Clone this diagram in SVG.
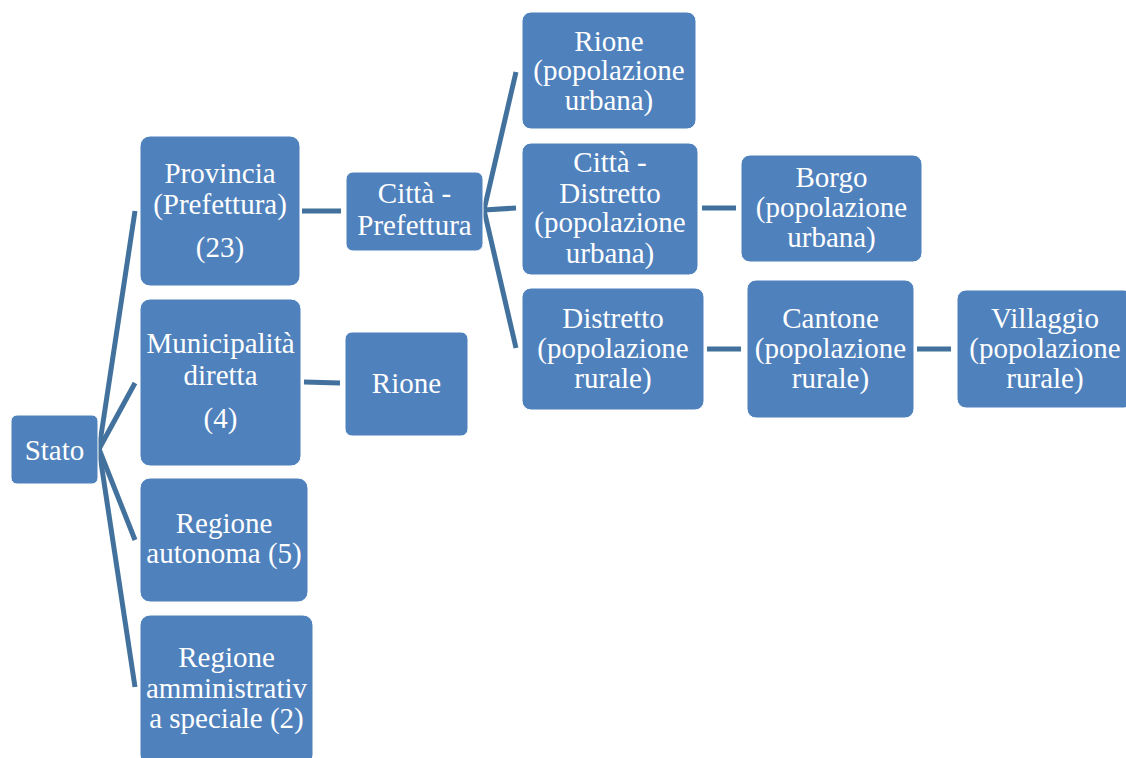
<svg xmlns="http://www.w3.org/2000/svg" width="1126" height="758" viewBox="0 0 1126 758">
<style>
.box{fill:#4f81bd;stroke:#ffffff;stroke-width:1}
text{font-family:'Liberation Serif',serif;font-size:29px;fill:#ffffff;text-anchor:middle}
.c{stroke:#41719c;stroke-width:5;fill:none;stroke-linecap:butt}
</style>
<rect width="1126" height="758" fill="#ffffff"/>
<g id="connectors">
<line class="c" x1="99" y1="449" x2="135" y2="211"/>
<line class="c" x1="99" y1="449" x2="135" y2="383"/>
<line class="c" x1="99" y1="449" x2="135" y2="540"/>
<line class="c" x1="99" y1="449" x2="135" y2="687"/>
<line class="c" x1="302" y1="211" x2="341" y2="211"/>
<line class="c" x1="304" y1="382" x2="340" y2="383"/>
<line class="c" x1="484" y1="210" x2="516" y2="72"/>
<line class="c" x1="484" y1="210" x2="516" y2="208"/>
<line class="c" x1="484" y1="210" x2="516" y2="348"/>
<line class="c" x1="702" y1="208" x2="736" y2="208"/>
<line class="c" x1="707" y1="349" x2="741" y2="349"/>
<line class="c" x1="917" y1="349" x2="951" y2="349"/>
</g>
<g id="stato"><rect class="box" x="11" y="415" width="87" height="69" rx="6"/><text x="54.5" y="460">Stato</text></g>
<g id="provincia"><rect class="box" x="140" y="136" width="160" height="150" rx="10"/>
<text x="220" y="183">Provincia</text><text x="220" y="214">(Prefettura)</text><text x="220" y="257">(23)</text></g>
<g id="municipalita"><rect class="box" x="140" y="299" width="161" height="167" rx="10"/>
<text x="220.5" y="353">Municipalità</text><text x="220.5" y="385">diretta</text><text x="220.5" y="428">(4)</text></g>
<g id="regione-autonoma"><rect class="box" x="140" y="478" width="168" height="124" rx="10"/>
<text x="224" y="533">Regione</text><text x="224" y="563">autonoma (5)</text></g>
<g id="regione-amministrativa"><rect class="box" x="140" y="615" width="173" height="150" rx="10"/>
<text x="226.5" y="667">Regione</text><text x="226.5" y="698">amministrativ</text><text x="226.5" y="728">a speciale (2)</text></g>
<g id="citta-prefettura"><rect class="box" x="346" y="172" width="137" height="79" rx="7"/>
<text x="414.5" y="203">Città -</text><text x="414.5" y="235">Prefettura</text></g>
<g id="rione"><rect class="box" x="345" y="332" width="123" height="104" rx="7"/>
<text x="406.5" y="393">Rione</text></g>
<g id="rione-urbana"><rect class="box" x="522" y="12" width="174" height="117" rx="9"/>
<text x="609" y="51">Rione</text><text x="609" y="80">(popolazione</text><text x="609" y="110">urbana)</text></g>
<g id="citta-distretto"><rect class="box" x="522" y="143" width="176" height="132" rx="9"/>
<text x="610" y="172">Città -</text><text x="610" y="203">Distretto</text><text x="610" y="232">(popolazione</text><text x="610" y="263">urbana)</text></g>
<g id="distretto"><rect class="box" x="522" y="288" width="182" height="122" rx="9"/>
<text x="613" y="328">Distretto</text><text x="613" y="358">(popolazione</text><text x="613" y="388">rurale)</text></g>
<g id="borgo"><rect class="box" x="741" y="155" width="181" height="107" rx="9"/>
<text x="831.5" y="187">Borgo</text><text x="831.5" y="217">(popolazione</text><text x="831.5" y="247">urbana)</text></g>
<g id="cantone"><rect class="box" x="747" y="280" width="167" height="138" rx="9"/>
<text x="830.5" y="328">Cantone</text><text x="830.5" y="358">(popolazione</text><text x="830.5" y="388">rurale)</text></g>
<g id="villaggio"><rect class="box" x="957" y="290" width="176" height="118" rx="9"/>
<text x="1045" y="328">Villaggio</text><text x="1045" y="358">(popolazione</text><text x="1045" y="388">rurale)</text></g>
</svg>
